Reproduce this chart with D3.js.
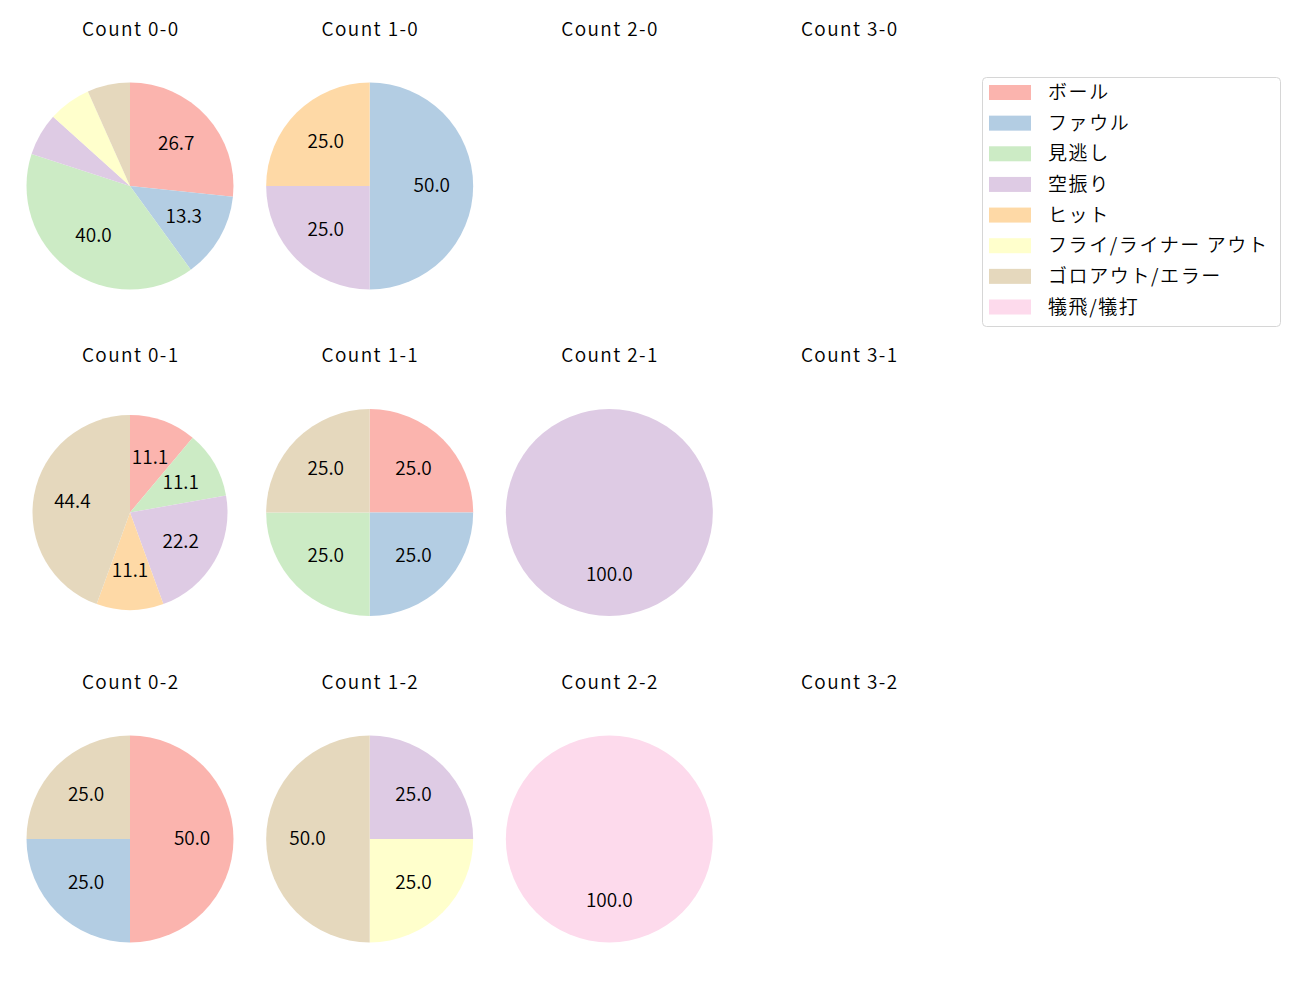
<!DOCTYPE html>
<html><head><meta charset="utf-8">
<script src="https://cdn.jsdelivr.net/npm/d3@7"></script>
<style>body{margin:0;background:#fff} text{font-weight:350}</style>
</head><body>
<svg id="chart" width="1300" height="1000"></svg>
<script>
const categories = ["ボール","ファウル","見逃し","空振り","ヒット","フライ/ライナー アウト","ゴロアウト/エラー","犠飛/犠打"];
const colors = ["#fbb4ae","#b3cde3","#ccebc5","#decbe4","#fed9a6","#ffffcc","#e5d8bd","#fddaec"];
const panelTitles = ["Count 0-0","Count 1-0","Count 2-0","Count 3-0",
                     "Count 0-1","Count 1-1","Count 2-1","Count 3-1",
                     "Count 0-2","Count 1-2","Count 2-2","Count 3-2"];
const c00 = [4,2,6,1,0,1,1,0];
const c10 = [0,2,0,1,1,0,0,0];
const c20 = [];
const c30 = [];
const c01 = [1,0,1,2,1,0,4,0];
const c11 = [1,1,1,0,0,0,1,0];
const c21 = [0,0,0,1,0,0,0,0];
const c31 = [];
const c02 = [2,1,0,0,0,0,1,0];
const c12 = [0,0,0,1,0,1,2,0];
const c22 = [0,0,0,0,0,0,0,1];
const c32 = [];
const panelValues = [c00,c10,c20,c30,c01,c11,c21,c31,c02,c12,c22,c32];

const FONT = "'Noto Sans CJK JP','Noto Sans',sans-serif";
const FS = "19px";
const svg = d3.select("#chart");
const colX = d3.scalePoint().domain([0,1,2,3]).range([130,849]);
const rowY = d3.scalePoint().domain([0,1,2]).range([186,839]);
const color = d3.scaleOrdinal().domain(categories).range(colors);
const pie = d3.pie().sort(null).value(d => d.v).startAngle(0).endAngle(2*Math.PI);

panelValues.forEach((vals, i) => {
  const col = i % 4, row = Math.floor(i / 4);
  const cx = colX(col), cy = rowY(row);
  const g = svg.append("g").attr("transform", `translate(${cx},${cy})`);
  g.append("text").attr("x",0.7).attr("y",-159).attr("text-anchor","middle")
    .attr("dominant-baseline","central")
    .style("font-family",FONT).style("font-size",FS).style("letter-spacing","1.4px").attr("fill","#000")
    .text(panelTitles[i]);
  if (!vals.length) return;
  const total = d3.sum(vals);
  const data = vals.map((v,k)=>({v, cat: categories[k]})).filter(d=>d.v>0);
  const r = (panelTitles[i]==="Count 0-1") ? 97.5 : 103.5;
  const arc = d3.arc().innerRadius(0).outerRadius(r);
  const arcs = pie(data);
  g.selectAll("path").data(arcs).join("path")
    .attr("d", arc).attr("fill", d => color(d.data.cat));
  const lab = d3.arc().innerRadius(r*0.6).outerRadius(r*0.6);
  g.selectAll("text.lab").data(arcs.filter(d => d.data.v/total*100 >= 10)).join("text")
    .attr("class","lab")
    .attr("transform", d => { const [x,y] = lab.centroid(d); return `translate(${x},${y-2.5})`; })
    .attr("text-anchor","middle").attr("dominant-baseline","central")
    .style("font-family",FONT).style("font-size",FS).attr("fill","#000")
    .text(d => (d.data.v/total*100).toFixed(1));
});

// legend
const lg = svg.append("g");
lg.append("rect").attr("x",982.5).attr("y",77.5).attr("width",298).attr("height",249)
  .attr("rx",4).attr("fill","#fff").attr("stroke","#d6d6d6");
const ly = d3.scalePoint().domain(categories).range([92,306.5]);
categories.forEach(c => {
  lg.append("rect").attr("x",989).attr("y",ly(c)-7).attr("width",42).attr("height",15).attr("fill",color(c));
  lg.append("text").attr("x",1048).attr("y",ly(c)-1.5).attr("dominant-baseline","central")
    .style("font-family",FONT).style("font-size",FS).style("letter-spacing","1.6px").attr("fill","#000").text(c);
});
</script>
</body></html>
